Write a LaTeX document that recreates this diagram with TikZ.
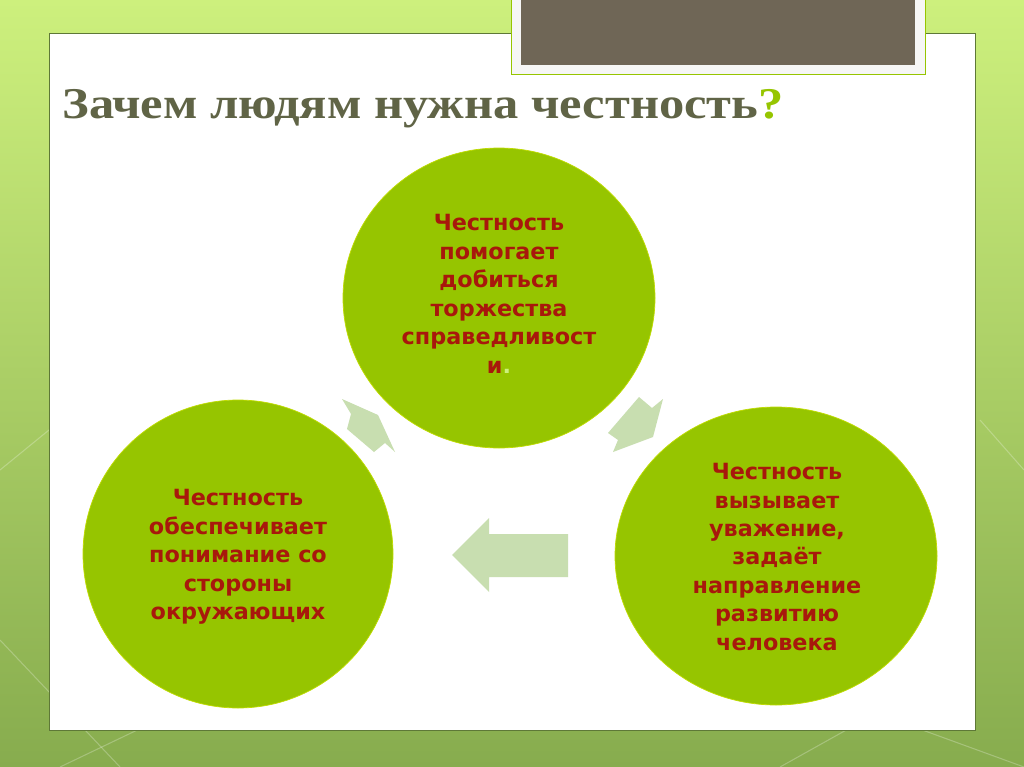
\documentclass[tikz,border=0pt]{standalone}
\usepackage{fontspec}
\setmainfont{Liberation Serif}
\newfontfamily\titlefont{Liberation Serif}[FakeStretch=1.15]
\newfontfamily\bubblefont{DejaVu Sans}
\definecolor{leaf}{RGB}{150,197,0}
\definecolor{pale}{RGB}{200,222,176}
\definecolor{wine}{RGB}{168,24,12}
\definecolor{olive}{RGB}{96,100,70}
\definecolor{slate}{RGB}{111,102,86}
\definecolor{lime}{RGB}{205,240,125}
\definecolor{moss}{RGB}{135,172,78}
\tikzset{
  bubble/.style={align=center, text=wine, inner sep=0,
    font=\bubblefont\bfseries\fontsize{12.7}{16.2}\selectfont},
  streak/.style={white, opacity=0.25, line width=0.6pt}
}

\begin{document}
\begin{tikzpicture}[x=0.02cm, y=-0.02cm]
\useasboundingbox (0, 0) rectangle (1024, 767);
% background of the slide
\shade [top color=lime, bottom color=moss] (0, 0) rectangle (1024, 767);
\draw [streak] (0, 640) -- (120, 767);
\draw [streak] (60, 767) -- (200, 700);
\draw [streak] (780, 767) -- (900, 700);
\draw [streak] (840, 700) -- (1024, 767);
\draw [streak] (980, 420) -- (1024, 470);
\draw [streak] (0, 470) -- (49, 430);
% white panel and the dark box on top
\draw [draw=moss!70!black, fill=white] (49, 33) rectangle (975, 730);
\draw [draw=leaf, fill=white!94!slate] (511, -2) rectangle (925, 74);
\fill [slate] (521, -2) rectangle (915, 65);
\node (title) [anchor=base west, inner sep=0, text=olive] at (62, 118)
  {\titlefont\fontsize{25}{29}\selectfont\bfseries Зачем людям нужна честность\textcolor{leaf}{?}};
% three circles
\draw [fill=leaf, draw=leaf!60!yellow] (499, 298) ellipse [x radius=156, y radius=150];
\draw [fill=leaf, draw=leaf!60!yellow] (238, 554) ellipse [x radius=155, y radius=154];
\draw [fill=leaf, draw=leaf!60!yellow] (776, 556) ellipse [x radius=161, y radius=149];
\node (justice) [bubble] at (499, 294)
  {Честность\\помогает\\добиться\\торжества\\справедливост\\и\textcolor{lime}{.}};
\node (others) [bubble] at (238, 557)
  {Честность\\обеспечивает\\понимание со\\стороны\\окружающих};
\node (respect) [bubble] at (777, 557)
  {Честность\\вызывает\\уважение,\\задаёт\\направление\\развитию\\человека};
% block arrows between the circles
\fill [pale] (342, 399) -- (378, 415) -- (395, 452) -- (385, 443) -- (374, 452)
  -- (347, 429) -- (351, 414) -- cycle;
\fill [pale] (639, 397) -- (652, 408) -- (663, 399) -- (653, 437) -- (613, 452)
  -- (618, 440) -- (608, 433) -- cycle;
\fill [pale] (452, 555) -- (489, 518) -- (489, 534) -- (568, 534) -- (568, 577)
  -- (489, 577) -- (489, 592) -- cycle;
\end{tikzpicture}
\end{document}
